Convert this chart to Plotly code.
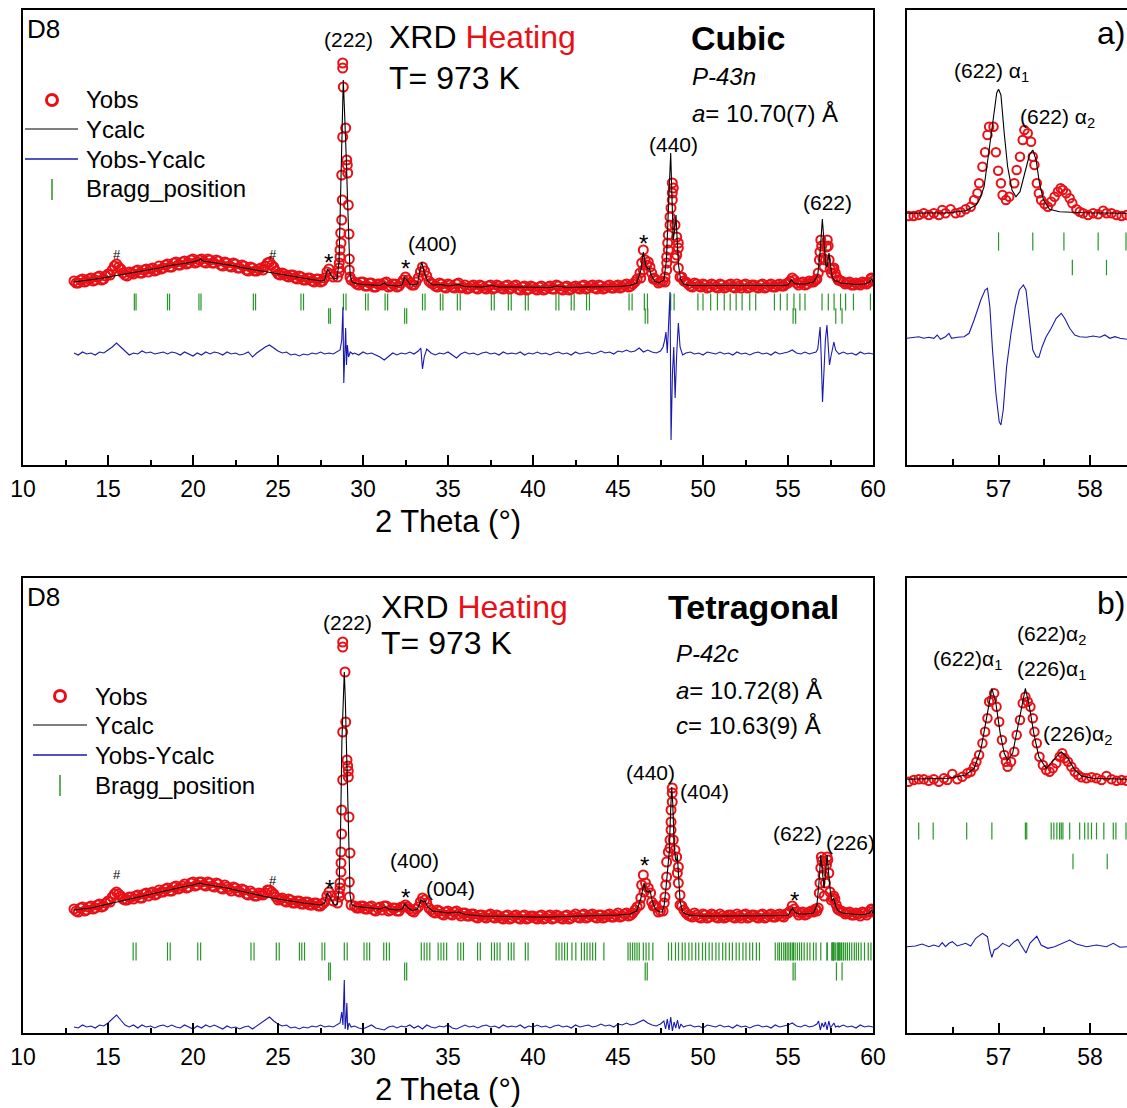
import plotly.graph_objects as go

W, H = 1127, 1108
FONT = "Liberation Sans, Arial, sans-serif"
RED = "rgb(232,16,22)"
BLUE = "rgb(25,25,175)"
GREEN = "rgb(40,150,40)"

# ---------------- DATA (2 theta in degrees, intensity in arbitrary units) ----------------
# Top panel (cubic) - observed points, background region (two interleaved sets of scan points)
top_obs_bg = [(13.0,184),(13.25,182),(13.5,186),(13.75,184),(14.0,187),(14.25,185),(14.5,189),(14.75,186),(15.0,191),(15.25,195),(15.5,201),(15.75,196),(16.0,190),(16.25,193),(16.5,191),(16.75,195),(17.0,192),(17.25,196),(17.5,196),(17.75,194),(18.0,199),(18.25,197),(18.5,201),(18.75,198),(19.0,203),(19.25,200),(19.5,204),(19.75,202),(20.0,206),(20.25,203),(20.5,206),(20.75,202),(21.0,205),(21.25,202),(21.5,204),(21.75,199),(22.0,202),(22.25,198),(22.5,201),(22.75,197),(23.0,199),(23.25,194),(23.5,197),(23.75,194),(24.0,197),(24.25,199),(24.5,203),(24.75,198),(25.0,191),(25.25,192),(25.5,189),(25.75,190),(26.0,187),(26.25,189),(26.5,185),(26.75,187),(27.0,184),(27.25,186),(27.5,183),(27.75,187),(28.0,196),(28.25,188),
 (29.5,183),(29.75,180),(30.0,183),(30.25,179),(30.5,182),(30.75,178),(31.0,181),(31.25,182),(31.5,178),(31.75,181),(32.0,178),(32.25,182),(32.5,188),(32.75,182),(33.0,180),(33.25,187),(33.5,198),(33.75,189),(34.0,182),(34.25,179),(34.5,182),(34.75,178),(35.0,181),(35.25,178),(35.5,181),(35.75,177),(36.0,180),(36.25,177),(36.5,180),(36.75,176),(37.0,179),(37.25,176),(37.5,180),(37.75,177),(38.0,179),(38.25,176),(38.5,180),(38.75,177),(39.0,180),(39.25,175),(39.5,179),(39.75,176),(40.0,178),(40.25,175),(40.5,179),(40.75,176),(41.0,179),(41.25,176),(41.5,179),(41.75,175),(42.0,179),(42.25,176),(42.5,179),(42.75,176),(43.0,180),(43.25,177),(43.5,180),(43.75,176),(44.0,179),(44.25,177),(44.5,180),(44.75,177),(45.0,180),(45.25,178),(45.5,181),(45.75,179),(46.0,183),
 (47.25,185),(47.5,183),
 (48.75,188),(49.0,183),(49.25,179),(49.5,182),(49.75,179),(50.0,181),(50.25,177),(50.5,181),(50.75,178),(51.0,181),(51.25,177),(51.5,180),(51.75,178),(52.0,181),(52.25,177),(52.5,181),(52.75,178),(53.0,180),(53.25,177),(53.5,181),(53.75,178),(54.0,181),(54.25,178),(54.5,181),(54.75,179),(55.0,182),(55.25,187),(55.5,182),(55.75,182),(56.0,180),(56.25,184),(56.5,183),
 (58.0,185),(58.25,183),(58.5,182),(58.75,180),(59.0,182),(59.25,180),(59.5,182),(59.75,183),(59.9,187),(60.0,184)]
top_obs_bg2 = [(13.125,182),(13.375,185),(13.625,183),(13.875,186),(14.125,184),(14.375,188),(14.625,185),(14.875,189),(15.125,190),(15.375,199),(15.625,198),(15.875,192),(16.125,189),(16.375,192),(16.625,194),(16.875,192),(17.125,195),(17.375,193),(17.625,197),(17.875,195),(18.125,196),(18.375,200),(18.625,198),(18.875,202),(19.125,200),(19.375,203),(19.625,201),(19.875,205),(20.125,202),(20.375,205),(20.625,203),(20.875,206),(21.125,202),(21.375,205),(21.625,200),(21.875,203),(22.125,199),(22.375,202),(22.625,197),(22.875,200),(23.125,195),(23.375,198),(23.625,194),(23.875,196),(24.125,195),(24.375,202),(24.625,200),(24.875,194),(25.125,190),(25.375,191),(25.625,188),(25.875,190),(26.125,186),(26.375,188),(26.625,185),(26.875,187),(27.125,183),(27.375,186),(27.625,184),(27.875,193),(28.125,191),
 (29.625,181),(29.875,183),(30.125,179),(30.375,182),(30.625,178),(30.875,181),(31.125,180),(31.375,183),(31.625,179),(31.875,181),(32.125,179),(32.375,185),(32.625,185),(32.875,180),(33.125,183),(33.375,193),(33.625,194),(33.875,184),(34.125,181),(34.375,178),(34.625,181),(34.875,177),(35.125,180),(35.375,177),(35.625,182),(35.875,178),(36.125,176),(36.375,179),(36.625,177),(36.875,180),(37.125,177),(37.375,179),(37.625,176),(37.875,180),(38.125,177),(38.375,179),(38.625,176),(38.875,179),(39.125,176),(39.375,178),(39.625,175),(39.875,179),(40.125,176),(40.375,178),(40.625,175),(40.875,178),(41.125,176),(41.375,180),(41.625,176),(41.875,178),(42.125,175),(42.375,178),(42.625,177),(42.875,179),(43.125,176),(43.375,179),(43.625,177),(43.875,180),(44.125,176),(44.375,179),(44.625,177),(44.875,179),(45.125,177),(45.375,180),(45.625,178),(45.875,181),
 (46.125,186),(47.125,187),(47.375,182),
 (48.875,184),(49.125,181),(49.375,178),(49.625,181),(49.875,178),(50.125,180),(50.375,178),(50.625,180),(50.875,177),(51.125,180),(51.375,178),(51.625,181),(51.875,177),(52.125,179),(52.375,180),(52.625,177),(52.875,180),(53.125,178),(53.375,180),(53.625,177),(53.875,180),(54.125,178),(54.375,180),(54.625,179),(54.875,181),(55.125,184),(55.375,185),(55.625,180),(55.875,183),(56.125,181),(56.375,183),(56.625,185),
 (58.125,184),(58.375,181),(58.625,183),(58.875,180),(59.125,181),(59.375,183),(59.625,181),(59.875,186)]
# Top panel - observed points on the peaks
top_obs_pk = [(28.5,188),(28.588,197),(28.606,193),(28.606,202),(28.647,208),(28.647,215),(28.688,232),(28.706,222),(28.747,245),(28.747,290),(28.782,265),(28.806,328),(28.806,397),(28.806,402),(28.841,378),(28.982,337),(29.041,305),(29.076,300),(29.1,292),(29.135,260),(29.176,231),(29.194,206),(29.194,195),(29.235,188),(29.3,185),
 (46.294,192),(46.335,187),(46.394,202),(46.488,195),(46.488,215),(46.6,205),(46.688,200),(46.78,203),(46.882,198),(46.982,192),(47.08,186),
 (47.65,184),(47.765,183),(47.765,188),(47.865,195),(47.865,202),(47.865,208),(47.924,222),(47.959,215),(47.959,230),(48.059,240),(48.059,248),(48.118,257),(48.194,265),(48.194,272),(48.194,282),(48.253,277),(48.353,240),(48.353,207),(48.453,228),(48.453,210),(48.547,222),(48.547,217),(48.547,197),(48.647,188),
 (56.7,186),(56.78,192),(56.85,205),(56.88,213),(56.93,225),(56.98,219),(57.05,207),(57.12,198),(57.2,205),(57.26,218),(57.31,225),(57.36,219),(57.42,205),(57.48,196),(57.56,192),(57.64,196),(57.7,197),(57.78,192),(57.86,188),(57.95,185)]
top_calc = [(13.0,183),(13.5,184),(14.0,185),(14.5,186.5),(15.0,188),(15.5,189.5),(16.0,191),(16.5,192),(17.0,193.5),(17.5,195),(18.0,197),(18.5,199),(19.0,200.5),(19.5,202),(20.0,203),(20.35,205),(20.45,206),(20.6,204),(21.0,203),(21.5,202),(22.0,200.5),(22.5,199),(23.0,197),(23.5,195.5),(24.0,194),(24.5,192.5),(25.0,191),(25.5,189.5),(26.0,188),(26.5,186.5),(27.0,185),(27.5,184),(27.75,185),(27.9,196),(28.0,194),(28.15,189),(28.3,186),(28.47,187),(28.59,203),(28.68,265),(28.76,345),(28.84,385),(28.91,355),(28.97,315),(29.03,300),(29.09,265),(29.15,225),(29.24,190),(29.35,183),(29.6,181.5),(30.0,180.5),(30.5,180),(31.0,179.5),(31.25,182),(31.4,180),(32.0,179),(32.3,180),(32.45,188),(32.6,184),(32.8,180),(33.2,181),(33.45,203),(33.6,193),(33.8,184),(34.1,180),(34.6,180.5),(35.0,179),(35.6,180.5),(36.0,178.5),(37.0,178),(37.6,179.5),(38.0,178),(39.0,178),(40.0,177.5),(41.0,177.5),(41.4,179),(42.0,177.5),(43.0,178),(44.0,178),(45.0,178.5),(45.7,179.5),(46.1,182),(46.35,195),(46.49,213),(46.62,200),(46.75,196),(46.84,197),(46.95,190),(47.15,184),(47.4,182),(47.7,185),(47.85,205),(47.95,250),(48.03,290),(48.1,312),(48.17,270),(48.25,225),(48.33,235),(48.41,250),(48.48,225),(48.56,200),(48.68,186),(48.85,181),(49.2,179.5),(49.7,179.5),(50.0,179),(51.0,179),(52.0,179),(53.0,179),(54.0,179),(54.6,179.5),(55.0,180),(55.2,185),(55.35,182),(55.5,181),(56.0,181),(56.5,183),(56.75,190),(56.9,215),(57.02,246),(57.12,225),(57.22,200),(57.3,198),(57.41,212),(57.5,200),(57.6,188),(57.75,184),(57.9,184),(58.1,182),(58.5,181),(59.0,180.5),(59.5,181),(59.8,183),(59.9,186),(60.0,183)]
top_diff = [(13.0,112),(13.25,110),(13.5,113),(13.75,111),(14.0,112),(14.25,110),(14.5,113),(14.75,112),(15.0,115),(15.25,118),(15.5,122),(15.75,118),(16.0,113),(16.25,110),(16.5,112),(16.75,111),(17.0,114),(17.25,112),(17.5,113),(17.75,111),(18.0,112),(18.25,113),(18.5,111),(18.75,113),(19.0,112),(19.25,110),(19.5,113),(19.75,111),(20.0,109),(20.25,112),(20.5,110),(20.75,113),(21.0,111),(21.25,113),(21.5,112),(21.75,110),(22.0,113),(22.25,111),(22.5,112),(22.75,110),(23.0,111),(23.25,113),(23.5,108),(23.75,112),(24.0,115),(24.25,118),(24.5,120),(24.75,117),(25.0,114),(25.25,112),(25.5,113),(25.75,110),(26.0,111),(26.25,109),(26.5,111),(26.75,110),(27.0,112),(27.25,111),(27.5,113),(27.75,111),(28.0,112),(28.25,111),(28.5,113),
 (28.65,115),(28.75,125),(28.82,158),(28.87,82),(28.93,110),(28.98,137),(29.03,100),(29.08,120),(29.15,108),(29.25,113),(29.4,111),
 (29.5,112),(29.75,110),(30.0,113),(30.25,111),(30.5,112),(30.75,110),(31.0,108),(31.25,105),(31.5,109),(31.75,112),(32.0,110),(32.25,112),(32.5,111),(32.75,113),(33.0,111),(33.25,114),(33.4,117),(33.5,96),(33.6,108),(33.75,116),(34.0,112),(34.25,110),(34.5,112),(34.75,111),(35.0,113),(35.25,110),(35.5,107),(35.75,111),(36.0,113),(36.25,111),(36.5,112),(36.75,110),(37.0,112),(37.25,113),(37.5,111),(37.75,112),(38.0,110),(38.25,113),(38.5,111),(38.75,112),(39.0,111),(39.25,113),(39.5,110),(39.75,112),(40.0,111),(40.25,113),(40.5,111),(40.75,112),(41.0,110),(41.25,112),(41.5,113),(41.75,111),(42.0,112),(42.25,110),(42.5,113),(42.75,111),(43.0,112),(43.25,113),(43.5,111),(43.75,112),(44.0,114),(44.25,112),(44.5,113),(44.75,111),(45.0,114),(45.25,113),(45.5,115),(45.75,113),(46.0,114),(46.25,117),(46.5,113),(46.75,115),(47.0,113),(47.25,112),(47.5,114),
 (47.65,118),(47.75,125),(47.82,133),(47.9,112),(48.0,150),(48.06,173),(48.12,25),(48.2,90),(48.28,118),(48.36,67),(48.45,110),(48.55,142),(48.65,118),(48.8,110),(49.0,112),
 (49.25,113),(49.5,111),(49.75,112),(50.0,110),(50.25,113),(50.5,112),(50.75,111),(51.0,113),(51.25,111),(51.5,112),(51.75,110),(52.0,113),(52.25,111),(52.5,112),(52.75,110),(53.0,112),(53.25,113),(53.5,111),(53.75,112),(54.0,110),(54.25,113),(54.5,111),(54.75,112),(55.0,113),(55.25,115),(55.5,112),(55.75,111),(56.0,113),(56.25,111),(56.5,112),
 (56.65,113),(56.75,116),(56.89,138),(56.96,105),(57.03,63),(57.12,95),(57.2,125),(57.29,140),(57.36,120),(57.44,100),(57.52,108),(57.62,118),(57.7,123),(57.8,115),(57.95,112),
 (58.0,111),(58.25,113),(58.5,111),(58.75,112),(59.0,110),(59.25,113),(59.5,111),(59.75,112),(60.0,111)]
top_bragg1 = [16.55,16.65,18.5,18.62,20.35,20.47,23.55,23.68,26.35,26.5,28.85,29.0,30.15,30.3,31.3,31.45,33.5,33.65,34.55,34.7,35.55,35.72,37.55,37.72,38.55,38.72,39.55,39.72,41.35,41.52,42.25,42.42,43.15,43.32,45.65,45.83,46.55,46.73,48.1,48.3,49.7,50.0,50.45,50.85,51.25,51.6,51.95,52.3,52.75,53.1,54.2,54.55,54.95,55.35,55.7,56.0,57.0,57.37,57.71,58.09,58.39,58.85,59.85]
top_bragg2 = [27.98,28.08,32.45,32.57,46.6,46.75,55.3,55.45,57.81,58.18]

# Bottom panel (tetragonal)
bot_obs_bg = [(13.0,124),(13.25,121),(13.5,126),(13.75,123),(14.0,127),(14.25,125),(14.5,129),(14.75,127),(15.0,132),(15.25,136),(15.5,141),(15.75,137),(16.0,133),(16.25,136),(16.5,134),(16.75,138),(17.0,135),(17.25,140),(17.5,140),(17.75,138),(18.0,143),(18.25,141),(18.5,145),(18.75,142),(19.0,147),(19.25,145),(19.5,149),(19.75,146),(20.0,151),(20.25,148),(20.5,151),(20.75,147),(21.0,150),(21.25,146),(21.5,149),(21.75,144),(22.0,146),(22.25,142),(22.5,145),(22.75,141),(23.0,143),(23.25,138),(23.5,140),(23.75,137),(24.0,139),(24.25,140),(24.5,143),(24.75,139),(25.0,133),(25.25,135),(25.5,131),(25.75,133),(26.0,130),(26.25,132),(26.5,129),(26.75,131),(27.0,128),(27.25,130),(27.5,127),(27.75,131),(28.0,141),(28.25,132),
 (29.5,127),(29.75,125),(30.0,127),(30.25,124),(30.5,127),(30.75,122),(31.0,126),(31.25,127),(31.5,122),(31.75,125),(32.0,122),(32.25,126),(32.5,128),(32.75,124),(33.0,121),(33.25,126),(33.5,135),(33.75,130),(34.0,123),(34.25,120),(34.5,122),(34.75,118),(35.0,122),(35.25,118),(35.5,122),(35.75,117),(36.0,120),(36.25,117),(36.5,119),(36.75,115),(37.0,118),(37.25,115),(37.5,119),(37.75,115),(38.0,117),(38.25,114),(38.5,118),(38.75,115),(39.0,118),(39.25,114),(39.5,118),(39.75,115),(40.0,117),(40.25,114),(40.5,118),(40.75,115),(41.0,118),(41.25,115),(41.5,117),(41.75,114),(42.0,118),(42.25,115),(42.5,119),(42.75,115),(43.0,119),(43.25,116),(43.5,119),(43.75,115),(44.0,118),(44.25,116),(44.5,119),(44.75,116),(45.0,120),(45.25,117),(45.5,120),(45.75,118),(46.0,123),
 (47.25,126),(47.5,122),
 (48.75,127),(49.0,120),(49.25,117),(49.5,120),(49.75,116),(50.0,119),(50.25,115),(50.5,119),(50.75,116),(51.0,119),(51.25,115),(51.5,118),(51.75,116),(52.0,119),(52.25,115),(52.5,119),(52.75,116),(53.0,118),(53.25,115),(53.5,119),(53.75,116),(54.0,119),(54.25,116),(54.5,119),(54.75,116),(55.0,120),(55.25,127),(55.5,121),(55.75,120),(56.0,118),(56.25,121),(56.5,121),
 (58.0,123),(58.25,121),(58.5,120),(58.75,118),(59.0,120),(59.25,117),(59.5,120),(59.75,121),(59.9,124),(60.0,121)]
bot_obs_bg2 = [(13.125,122),(13.375,125),(13.625,122),(13.875,126),(14.125,124),(14.375,128),(14.625,126),(14.875,130),(15.125,131),(15.375,139),(15.625,139),(15.875,134),(16.125,133),(16.375,136),(16.625,137),(16.875,135),(17.125,139),(17.375,137),(17.625,141),(17.875,139),(18.125,141),(18.375,144),(18.625,142),(18.875,146),(19.125,144),(19.375,147),(19.625,145),(19.875,150),(20.125,147),(20.375,151),(20.625,148),(20.875,151),(21.125,147),(21.375,150),(21.625,145),(21.875,148),(22.125,144),(22.375,146),(22.625,142),(22.875,144),(23.125,139),(23.375,142),(23.625,137),(23.875,140),(24.125,138),(24.375,143),(24.625,141),(24.875,136),(25.125,134),(25.375,132),(25.625,134),(25.875,130),(26.125,132),(26.375,129),(26.625,131),(26.875,128),(27.125,130),(27.375,127),(27.625,129),(27.875,137),(28.125,137),
 (29.625,125),(29.875,127),(30.125,124),(30.375,126),(30.625,123),(30.875,125),(31.125,123),(31.375,127),(31.625,123),(31.875,125),(32.125,122),(32.375,126),(32.625,126),(32.875,122),(33.125,124),(33.375,131),(33.625,133),(33.875,125),(34.125,121),(34.375,123),(34.625,119),(34.875,121),(35.125,119),(35.375,121),(35.625,119),(35.875,120),(36.125,117),(36.375,119),(36.625,116),(36.875,118),(37.125,116),(37.375,118),(37.625,116),(37.875,118),(38.125,115),(38.375,117),(38.625,114),(38.875,117),(39.125,115),(39.375,117),(39.625,114),(39.875,117),(40.125,115),(40.375,117),(40.625,114),(40.875,117),(41.125,114),(41.375,118),(41.625,115),(41.875,117),(42.125,114),(42.375,117),(42.625,116),(42.875,118),(43.125,115),(43.375,118),(43.625,116),(43.875,118),(44.125,115),(44.375,118),(44.625,116),(44.875,118),(45.125,116),(45.375,119),(45.625,117),(45.875,120),
 (46.125,126),(47.125,128),(47.375,121),
 (48.875,123),(49.125,118),(49.375,116),(49.625,118),(49.875,115),(50.125,118),(50.375,116),(50.625,118),(50.875,115),(51.125,117),(51.375,116),(51.625,118),(51.875,115),(52.125,117),(52.375,118),(52.625,115),(52.875,118),(53.125,116),(53.375,118),(53.625,115),(53.875,118),(54.125,116),(54.375,118),(54.625,117),(54.875,119),(55.125,122),(55.375,124),(55.625,118),(55.875,121),(56.125,119),(56.375,122),(56.625,124),
 (58.125,122),(58.375,119),(58.625,121),(58.875,118),(59.125,119),(59.375,121),(59.625,118),(59.875,123)]
bot_obs_pk = [(28.5,130),(28.606,136),(28.606,140),(28.647,145),(28.647,150),(28.706,161),(28.706,170),(28.706,181),(28.747,199),(28.747,223),(28.806,253),(28.806,301),(28.941,361),(28.806,386),(28.806,391),(28.982,311),(29.059,273),(29.1,267),(29.135,262),(29.135,256),(29.176,216),(29.235,180),(29.194,151),(29.194,136),(29.3,128),
 (46.29,128),(46.34,135),(46.39,148),(46.49,158),(46.53,141),(46.62,150),(46.78,145),(46.92,140),(46.98,131),(47.08,127),
 (47.65,122),(47.72,130),(47.76,136),(47.81,148),(47.86,156),(47.86,171),(47.96,181),(48.06,185),(48.06,193),(48.12,203),(48.12,211),(48.12,223),(48.19,231),(48.19,240),(48.19,245),(48.25,193),(48.35,183),(48.45,176),(48.49,160),(48.55,166),(48.55,150),(48.65,138),(48.65,128),
 (56.7,122),(56.78,125),(56.84,140),(56.88,150),(56.93,165),(56.96,176),(57.0,172),(57.06,158),(57.13,137),(57.2,150),(57.26,168),(57.3,176),(57.34,173),(57.4,160),(57.47,141),(57.55,133),(57.62,135),(57.69,137),(57.76,134),(57.84,128),(57.92,124)]
bot_calc = [(13.0,123),(13.5,124),(14.0,125),(14.5,127),(15.0,129),(15.5,131),(16.0,133),(16.5,135),(17.0,137),(17.5,139),(18.0,141),(18.5,143),(19.0,145),(19.5,146.5),(20.0,148),(20.4,150),(20.6,149),(21.0,148),(21.5,146.5),(22.0,145),(22.5,143),(23.0,141),(23.5,139),(24.0,137),(24.5,135.5),(25.0,134),(25.5,132.5),(26.0,131),(26.5,130),(27.0,129),(27.5,128),(27.75,130),(27.9,140),(28.05,136),(28.2,131),(28.35,128),(28.47,128),(28.59,143),(28.68,203),(28.76,293),(28.85,343),(28.9,361),(28.96,333),(29.03,273),(29.09,258),(29.15,203),(29.24,138),(29.35,128),(29.6,126.5),(30.0,125.5),(30.5,125),(31.0,124),(31.3,126),(31.5,124),(32.0,123),(32.3,124),(32.47,129),(32.65,125),(32.9,122.5),(33.2,124),(33.42,133),(33.55,131),(33.65,132),(33.8,126),(34.1,122),(34.6,121),(35.0,120),(35.6,121),(36.0,118.5),(37.0,117),(38.0,116.5),(39.0,116),(40.0,116),(41.0,116),(42.0,116.5),(43.0,117),(44.0,117),(45.0,118),(45.7,119),(46.1,122),(46.35,135),(46.53,150),(46.65,142),(46.8,141),(46.88,143),(47.0,133),(47.2,124),(47.45,121),(47.6,121),(47.72,128),(47.85,150),(47.95,175),(48.02,182),(48.08,215),(48.157,246),(48.22,230),(48.3,190),(48.38,174),(48.45,172),(48.49,178),(48.56,160),(48.65,132),(48.8,121),(49.0,119),(49.2,118),(49.7,117.5),(50.0,117),(51.0,117),(52.0,117),(53.0,117),(54.0,117),(55.0,117.5),(55.25,125),(55.4,121),(55.6,119),(56.0,119),(56.5,120),(56.7,128),(56.82,150),(56.93,178),(57.03,160),(57.12,145),(57.2,158),(57.3,178),(57.4,158),(57.5,140),(57.6,132),(57.69,135),(57.8,127),(57.95,122),(58.2,120),(58.6,119),(59.0,118.5),(59.5,118.5),(59.8,120),(59.9,123),(60.0,120)]
bot_diff = [(13.0,6),(13.25,5),(13.5,8),(13.75,6),(14.0,7),(14.25,5),(14.5,8),(14.75,7),(15.0,10),(15.25,14),(15.5,18),(15.75,13),(16.0,8),(16.25,6),(16.5,8),(16.75,5),(17.0,8),(17.25,6),(17.5,7),(17.75,5),(18.0,7),(18.25,8),(18.5,6),(18.75,8),(19.0,6),(19.25,5),(19.5,8),(19.75,6),(20.0,4),(20.25,7),(20.5,5),(20.75,8),(21.0,6),(21.25,8),(21.5,6),(21.75,4),(22.0,7),(22.25,5),(22.5,6),(22.75,4),(23.0,6),(23.25,7),(23.5,4),(23.75,7),(24.0,10),(24.25,13),(24.5,16),(24.75,12),(25.0,9),(25.25,7),(25.5,8),(25.75,5),(26.0,6),(26.25,4),(26.5,6),(26.75,5),(27.0,7),(27.25,6),(27.5,8),(27.75,6),(28.0,7),(28.25,6),(28.5,8),
 (28.65,10),(28.75,21),(28.82,8),(28.9,53),(28.95,4),(29.0,12),(29.05,30),(29.1,3),(29.18,10),(29.3,6),
 (29.5,7),(29.75,5),(30.0,4),(30.25,6),(30.5,8),(30.75,5),(31.0,4),(31.25,3),(31.5,6),(31.75,7),(32.0,5),(32.25,7),(32.5,6),(32.75,8),(33.0,5),(33.25,7),(33.5,4),(33.75,8),(34.0,6),(34.25,5),(34.5,7),(34.75,6),(35.0,8),(35.25,5),(35.5,4),(35.75,6),(36.0,8),(36.25,6),(36.5,7),(36.75,5),(37.0,7),(37.25,8),(37.5,6),(37.75,7),(38.0,5),(38.25,8),(38.5,6),(38.75,7),(39.0,6),(39.25,8),(39.5,5),(39.75,7),(40.0,6),(40.25,8),(40.5,6),(40.75,7),(41.0,5),(41.25,7),(41.5,8),(41.75,6),(42.0,7),(42.25,5),(42.5,8),(42.75,6),(43.0,7),(43.25,8),(43.5,6),(43.75,7),(44.0,9),(44.25,7),(44.5,8),(44.75,6),(45.0,9),(45.25,8),(45.5,10),(45.75,8),(46.0,9),(46.25,11),(46.5,13),(46.75,10),(47.0,8),(47.25,7),(47.5,9),
 (47.7,12),(47.8,4),(47.9,14),(48.0,3),(48.1,16),(48.2,2),(48.3,11),(48.4,5),(48.5,13),(48.6,4),(48.7,9),(48.85,6),(49.0,7),
 (49.25,8),(49.5,6),(49.75,7),(50.0,5),(50.25,8),(50.5,7),(50.75,6),(51.0,8),(51.25,6),(51.5,7),(51.75,5),(52.0,8),(52.25,6),(52.5,7),(52.75,5),(53.0,7),(53.25,8),(53.5,6),(53.75,7),(54.0,5),(54.25,8),(54.5,6),(54.75,7),(55.0,8),(55.25,10),(55.5,7),(55.75,6),(56.0,8),(56.25,6),(56.5,7),
 (56.7,9),(56.8,12),(56.9,3),(57.0,10),(57.1,6),(57.2,11),(57.3,3),(57.4,12),(57.5,5),(57.6,8),(57.7,10),(57.8,6),(57.95,7),
 (58.0,6),(58.25,8),(58.5,6),(58.75,7),(59.0,5),(59.25,8),(59.5,6),(59.75,7),(60.0,6)]
bot_bragg1 = [16.48,16.65,18.5,18.66,20.28,20.45,23.41,23.59,24.9,25.07,26.26,26.4,26.56,27.59,27.75,28.9,29.07,30.06,30.23,30.39,31.22,31.38,31.55,33.43,33.6,33.76,33.93,34.42,34.59,34.75,34.92,35.58,35.75,35.91,36.74,36.9,37.56,37.73,37.89,38.06,38.55,38.72,38.88,39.55,39.71,41.36,41.53,41.7,41.86,42.02,42.29,42.52,42.85,43.02,43.18,43.35,43.51,43.68,44.17,45.59,45.72,45.86,45.99,46.12,46.25,46.49,46.65,46.82,47.05,47.97,48.15,48.38,48.56,48.78,48.95,49.17,49.35,49.57,49.75,49.97,50.15,50.36,50.54,50.76,50.94,51.16,51.34,51.55,51.73,51.95,52.13,52.35,52.53,52.75,52.92,53.14,53.32,54.25,54.4,54.5,54.62,54.75,54.85,54.95,55.05,55.15,55.25,55.32,55.42,55.55,55.68,55.8,55.95,56.13,56.29,56.5,56.65,56.93,57.29,57.31,57.58,57.6,57.64,57.67,57.69,57.7,57.78,57.89,57.94,57.98,58.02,58.07,58.15,58.25,58.28,58.39,58.5,58.62,58.75,58.9,59.02,59.15,59.3,59.5,59.72,59.88]
bot_bragg2 = [27.98,28.08,32.45,32.57,46.6,46.72,55.3,55.42,57.85,58.18]

# Inset a) (cubic, zoom on (622))
ina_obs = [(56.018,249),(56.073,249),(56.128,250),(56.183,251.7),(56.238,250),(56.293,251.7),(56.348,250),(56.385,255),(56.421,251.7),(56.476,255.7),(56.531,251.7),(56.586,252.7),(56.641,255.7),(56.696,258.3),(56.733,265),(56.769,271.7),(56.788,281.7),(56.824,298.3),(56.853,312.7),(56.879,330),(56.897,338.3),(56.945,338.3),(56.971,312.7),(56.996,294.3),(57.026,281.7),(57.044,270),(57.081,265),(57.117,268.3),(57.172,281.7),(57.198,295),(57.234,308.3),(57.264,325),(57.282,335),(57.319,331.7),(57.355,323.3),(57.374,308.3),(57.392,300),(57.418,281.7),(57.44,271.7),(57.465,265),(57.502,261),(57.538,258.3),(57.575,263.3),(57.612,268.3),(57.648,273.3),(57.678,276.7),(57.703,275),(57.74,271.7),(57.777,266.7),(57.806,261.7),(57.85,255.7),(57.886,253.3),(57.923,251.7),(57.978,250),(58.033,251.7),(58.088,250.7),(58.143,254.3),(58.179,251.7),(58.234,251.7),(58.289,250),(58.344,249),(58.399,250)]
ina_calc = [(56.0,251.7),(56.458,252.3),(56.641,254.3),(56.755,260),(56.8,267),(56.842,278.3),(56.897,315),(56.952,355),(56.98,372),(57.0,375.7),(57.026,370),(57.062,331.7),(57.099,298.3),(57.147,275),(57.19,268.3),(57.234,273.3),(57.282,291.7),(57.337,310),(57.374,315),(57.41,305),(57.447,281.7),(57.491,265),(57.557,255.7),(57.667,253.3),(57.923,252.3),(58.403,251.7)]
ina_diff = [(56.0,126.7),(56.073,127.7),(56.128,128.3),(56.183,126.7),(56.238,127.7),(56.293,126.7),(56.33,130),(56.366,125.7),(56.421,128.3),(56.458,131.7),(56.487,126.7),(56.549,127.7),(56.623,128.3),(56.678,131.7),(56.733,145),(56.806,165),(56.853,175),(56.879,176.7),(56.905,158.3),(56.934,115),(56.971,71.7),(57.007,43.3),(57.026,40),(57.051,55),(57.088,98.3),(57.136,131.7),(57.183,158.3),(57.227,175),(57.271,180),(57.3,175),(57.337,145),(57.374,115),(57.41,108.3),(57.44,107.7),(57.476,118.3),(57.52,128.3),(57.575,136.7),(57.63,146.7),(57.685,151.7),(57.722,146.7),(57.777,136.7),(57.832,130),(57.886,128.3),(57.96,127.7),(58.033,129),(58.106,127.7),(58.161,130),(58.216,126.7),(58.271,128.3),(58.326,126.7),(58.403,125.7)]
ina_bragg1 = [57.0,57.374,57.714,58.088,58.392]
ina_bragg2 = [57.806,58.179]

# Inset b) (tetragonal, zoom on (622)/(226))
inb_obs = [(56.018,251.3),(56.073,253),(56.128,253.7),(56.183,253.7),(56.238,252.3),(56.293,253.7),(56.348,251.3),(56.403,254.7),(56.44,253),(56.495,259),(56.549,253.7),(56.604,256.3),(56.659,259.7),(56.696,261.3),(56.733,266.3),(56.758,271.3),(56.788,278),(56.824,289.7),(56.853,301.3),(56.879,314.7),(56.897,331.3),(56.927,333),(56.952,339.7),(56.978,326.3),(57.007,311.3),(57.037,293),(57.062,278),(57.081,271.3),(57.099,266.3),(57.136,271.3),(57.172,281.3),(57.198,298),(57.234,313),(57.264,329.7),(57.293,336.3),(57.319,331.3),(57.348,326.3),(57.374,314.7),(57.392,301.3),(57.418,289.7),(57.447,276.3),(57.484,268),(57.52,263),(57.557,261.3),(57.593,264.7),(57.63,269.7),(57.667,276.3),(57.696,279.7),(57.722,274.7),(57.758,271.3),(57.795,266.3),(57.832,261.3),(57.868,258),(57.905,255.7),(57.96,254.7),(58.015,255.7),(58.07,254.7),(58.125,253),(58.179,257),(58.234,253.7),(58.289,252.3),(58.344,253),(58.399,252.3)]
inb_calc = [(56.0,253.7),(56.458,254.7),(56.641,258),(56.733,264.7),(56.806,283),(56.868,316.3),(56.927,344.7),(56.971,329.7),(57.018,299.7),(57.062,279.7),(57.099,273),(57.154,279.7),(57.209,306.3),(57.256,329.7),(57.293,344.7),(57.337,326.3),(57.385,299.7),(57.44,276.3),(57.52,264.7),(57.601,273),(57.685,281.3),(57.758,274.7),(57.832,263),(57.905,257),(58.033,254.7),(58.403,253.7)]
inb_diff = [(56.0,86.3),(56.092,87),(56.165,89),(56.238,86.3),(56.293,88),(56.348,86.3),(56.385,90.3),(56.421,86.3),(56.458,89.7),(56.495,91.3),(56.549,87),(56.604,89),(56.641,89.7),(56.696,87),(56.751,94.7),(56.824,99.7),(56.879,96.3),(56.905,83),(56.927,75.7),(56.952,83),(56.989,84.7),(57.044,89.7),(57.117,86.3),(57.172,91.3),(57.209,93.7),(57.245,88),(57.3,80),(57.344,90),(57.392,95),(57.418,96.7),(57.465,88),(57.538,84.7),(57.612,86.3),(57.703,89.7),(57.777,93),(57.85,89),(57.96,86.3),(58.07,88),(58.179,86.3),(58.253,89.7),(58.326,85.7),(58.403,86.3)]
inb_bragg1 = [56.128,56.286,56.652,56.927,57.293,57.308,57.575,57.604,57.637,57.667,57.685,57.703,57.777,57.886,57.941,57.978,58.015,58.07,58.15,58.253,58.282,58.392]
inb_bragg2 = [57.813,58.187]

main_ticks = [10, 15, 20, 25, 30, 35, 40, 45, 50, 55, 60]
inset_ticks = [57, 58]

# ---------------- LAYOUT HELPERS ----------------
def PX(x):
    return x / W

def PY(y):
    return 1 - y / H

def xs(pairs):
    return [p[0] for p in pairs]

def ys(pairs):
    return [p[1] for p in pairs]

fig = go.Figure()

panels = [
    ("", [top_obs_bg, top_obs_bg2, top_obs_pk], top_calc, top_diff, [(top_bragg1, 163, 12), (top_bragg2, 149, 11)], 9),
    ("2", [ina_obs], ina_calc, ina_diff, [(ina_bragg1, 223.5, 13), (ina_bragg2, 197.5, 11)], 8.5),
    ("3", [bot_obs_bg, bot_obs_bg2, bot_obs_pk], bot_calc, bot_diff, [(bot_bragg1, 81.5, 13), (bot_bragg2, 61.5, 13)], 9),
    ("4", [inb_obs], inb_calc, inb_diff, [(inb_bragg1, 202, 12), (inb_bragg2, 171.5, 11)], 8.5),
]

for suf, obs_lists, calc, diff, rows, msize in panels:
    xa, ya = "x" + suf, "y" + suf
    for pos, lvl, ln in rows:
        fig.add_trace(go.Scatter(x=pos, y=[lvl] * len(pos), mode="markers", xaxis=xa, yaxis=ya,
                                 marker=dict(symbol="line-ns-open", size=ln, color=GREEN,
                                             line=dict(width=1.2, color=GREEN)),
                                 showlegend=False, hoverinfo="skip"))
    fig.add_trace(go.Scatter(x=xs(diff), y=ys(diff), mode="lines", xaxis=xa, yaxis=ya,
                             line=dict(color=BLUE, width=1.1), showlegend=False))
    for ob in obs_lists:
        fig.add_trace(go.Scatter(x=xs(ob), y=ys(ob), mode="markers", xaxis=xa, yaxis=ya,
                                 marker=dict(symbol="circle-open", size=msize, color=RED, line=dict(width=2, color=RED)),
                                 showlegend=False))
    fig.add_trace(go.Scatter(x=xs(calc), y=ys(calc), mode="lines", xaxis=xa, yaxis=ya,
                             line=dict(color="black", width=1.1), showlegend=False))

tickfont = dict(family=FONT, size=23, color="black")

def xaxis_main(anchor):
    return dict(domain=[PX(23), PX(873)], anchor=anchor, range=[10, 60], automargin=False,
                tickmode="array", tickvals=main_ticks, ticks="inside", ticklen=10, tickwidth=1.5, tickcolor="black",
                minor=dict(dtick=2.5, tick0=10, ticks="inside", ticklen=5, tickwidth=1.5, tickcolor="black", showgrid=False),
                showline=True, linecolor="black", linewidth=2, mirror=True, showgrid=False, zeroline=False,
                tickfont=tickfont, ticklabelstandoff=2,
                title=dict(text="2 Theta (°)", font=dict(family=FONT, size=31, color="black"), standoff=10))

def xaxis_inset(anchor):
    return dict(domain=[PX(907), 1.0], anchor=anchor, range=[56.0, 58.403], automargin=False,
                tickmode="array", tickvals=inset_ticks, ticks="inside", ticklen=10, tickwidth=1.5, tickcolor="black",
                minor=dict(tickmode="array", tickvals=[56.5, 57.5], ticks="inside", ticklen=6, tickwidth=1.5, tickcolor="black", showgrid=False),
                showline=True, linecolor="black", linewidth=2, mirror=True, showgrid=False, zeroline=False,
                tickfont=tickfont, ticklabelstandoff=2)

def yaxis(domain, anchor, mirror):
    return dict(domain=domain, anchor=anchor, range=[0, 455], showticklabels=False, ticks="", automargin=False,
                showline=True, linecolor="black", linewidth=2, mirror=mirror, showgrid=False, zeroline=False)

top_dom = [PY(465), PY(10)]
bot_dom = [PY(1033), PY(578)]

fig.update_layout(
    width=W, height=H, margin=dict(l=0, r=0, t=0, b=0, pad=0), autosize=False,
    paper_bgcolor="white", plot_bgcolor="white", showlegend=False,
    xaxis=xaxis_main("y"), yaxis=yaxis(top_dom, "x", True),
    xaxis2=xaxis_inset("y2"), yaxis2=yaxis(top_dom, "x2", False),
    xaxis3=xaxis_main("y3"), yaxis3=yaxis(bot_dom, "x3", True),
    xaxis4=xaxis_inset("y4"), yaxis4=yaxis(bot_dom, "x4", False),
)

ann = []
def note(text, x, y, size, xanchor="left", color="black"):
    ann.append(dict(x=PX(x), y=PY(y), xref="paper", yref="paper", text=text, showarrow=False,
                    xanchor=xanchor, yanchor="middle", font=dict(family=FONT, size=size, color=color)))

heat = "XRD <span style='color:" + RED + "'>Heating</span>"
# top main panel
note("D8", 25, 29, 26)
note(heat, 387, 37, 32)
note("T= 973 K", 387, 78, 32)
note("<b>Cubic</b>", 689, 38, 34)
note("<i>P-43n</i>", 690, 77, 24)
note("<i>a</i>= 10.70(7) Å", 690, 113, 24)
note("(222)", 348, 40, 21, "center")
note("(400)", 432, 243, 21, "center")
note("(440)", 673, 145, 21, "center")
note("(622)", 827, 203, 21, "center")
for (x, y) in [(328, 262), (405, 268), (643, 243)]:
    note("*", x, y, 24, "center")
for (x, y) in [(117, 255), (273, 254)]:
    note("#", x, y, 13, "center")
# bottom main panel
note("D8", 25, 597, 26)
note(heat, 379, 607, 32)
note("T= 973 K", 379, 643, 32)
note("<b>Tetragonal</b>", 666, 607, 34)
note("<i>P-42c</i>", 674, 653, 24)
note("<i>a</i>= 10.72(8) Å", 674, 690, 24)
note("<i>c</i>= 10.63(9) Å", 674, 725, 24)
note("(222)", 347, 622, 21, "center")
note("(400)", 414, 860, 21, "center")
note("(004)", 450, 888, 21, "center")
note("(440)", 650, 772, 21, "center")
note("(404)", 704, 791, 21, "center")
note("(622)", 797, 833, 21, "center")
note("(226)", 850, 842, 21, "center")
for (x, y) in [(329, 888), (405, 897), (644, 865), (794, 900)]:
    note("*", x, y, 24, "center")
for (x, y) in [(117, 874), (273, 880)]:
    note("#", x, y, 13, "center")
# insets
note("a)", 1095, 33, 32)
note("(622) α<sub>1</sub>", 991, 72, 21, "center")
note("(622) α<sub>2</sub>", 1018, 118, 21)
note("b)", 1095, 603, 32)
note("(622)α<sub>1</sub>", 931, 660, 21)
note("(622)α<sub>2</sub>", 1015, 635, 21)
note("(226)α<sub>1</sub>", 1015, 670, 21)
note("(226)α<sub>2</sub>", 1041, 735, 21)
# legends (text)
for (x0, yl) in [(84, [100, 129, 159, 189]), (93, [696, 725, 755, 785])]:
    for t, yy in zip(["Yobs", "Ycalc", "Yobs-Ycalc", "Bragg_position"], yl):
        note(t, x0, yy, 24)

shapes = []
def circ(cx, cy, r):
    shapes.append(dict(type="circle", xref="paper", yref="paper", x0=PX(cx - r), x1=PX(cx + r),
                       y0=PY(cy + r), y1=PY(cy - r), line=dict(color=RED, width=3)))

def seg(x0, y0, x1, y1, color, w):
    shapes.append(dict(type="line", xref="paper", yref="paper", x0=PX(x0), x1=PX(x1), y0=PY(y0), y1=PY(y1),
                       line=dict(color=color, width=w)))

circ(52, 100, 5.5)
seg(25, 129, 78, 129, "black", 1.2)
seg(25, 159, 78, 159, BLUE, 1.5)
seg(52, 179, 52, 200, GREEN, 1.5)
circ(60, 696, 5.5)
seg(33, 725, 87, 725, "black", 1.2)
seg(33, 755, 87, 755, BLUE, 1.5)
seg(60, 775, 60, 796, GREEN, 1.5)

fig.update_layout(annotations=ann, shapes=shapes)
fig.write_html("out.html", config={"displayModeBar": False},
               post_script="document.body.style.margin='0px';document.body.style.overflow='hidden';")
